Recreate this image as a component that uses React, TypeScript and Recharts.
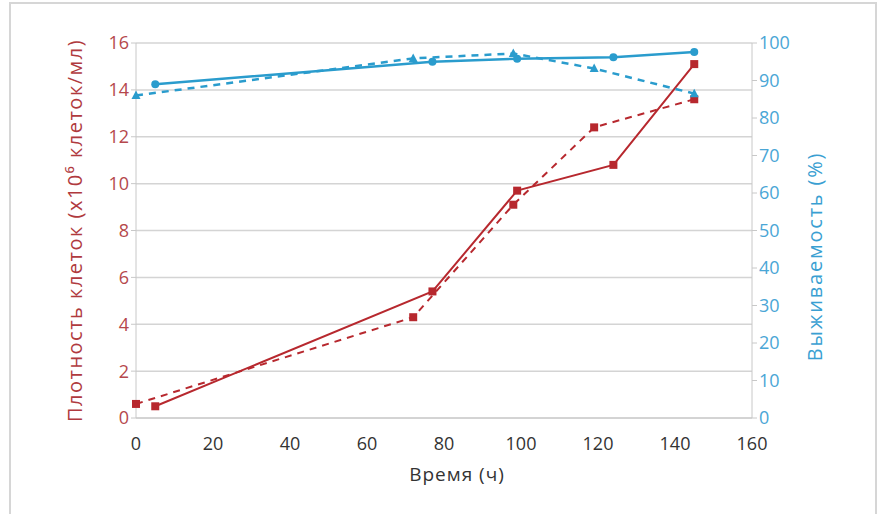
import { CartesianGrid, Line, LineChart, XAxis, YAxis } from "recharts";

// time points (h)
const solidTimes = [5, 77, 99, 124, 145];
const dashedTimes = [0, 72, 98, 119, 145];

// cell density, x10^6 cells/ml
const densitySolid = [0.5, 5.4, 9.7, 10.8, 15.1];
const densityDashed = [0.6, 4.3, 9.1, 12.4, 13.6];

// viability, %
const viabilitySolid = [89, 95, 95.8, 96.2, 97.6];
const viabilityDashed = [86, 95.9, 97.2, 93.2, 86.5];

const xTicks = [0, 20, 40, 60, 80, 100, 120, 140, 160];
const leftTicks = [0, 2, 4, 6, 8, 10, 12, 14, 16];
const rightTicks = [0, 10, 20, 30, 40, 50, 60, 70, 80, 90, 100];

const RED = "#b7282e";
const BLUE = "#2a9ccd";
const FONT = "'Open Sans', sans-serif";

const toRows = (times: number[], values: number[]) =>
  times.map((t, i) => ({ t, v: values[i] }));

const Square = (props: any) => {
  const { cx, cy, fill } = props;
  if (cx == null || cy == null) return null;
  return <rect x={cx - 4} y={cy - 4} width={8} height={8} fill={fill} />;
};

const Circle = (props: any) => {
  const { cx, cy, fill } = props;
  if (cx == null || cy == null) return null;
  return <circle cx={cx} cy={cy} r={4} fill={fill} />;
};

const Triangle = (props: any) => {
  const { cx, cy, fill } = props;
  if (cx == null || cy == null) return null;
  return <path d={`M${cx},${cy - 5} L${cx + 4.5},${cy + 3.5} L${cx - 4.5},${cy + 3.5} Z`} fill={fill} />;
};

export default function App() {
  return (
    <div
      style={{
        position: "absolute",
        left: 0,
        top: 0,
        width: 882,
        height: 514,
        background: "#fff",
        fontFamily: FONT,
      }}
    >
      <div
        style={{
          position: "absolute",
          left: 9,
          top: 2,
          width: 868,
          height: 520,
          border: "2px solid #d6d6d6",
          boxSizing: "border-box",
        }}
      />
      <LineChart
        width={882}
        height={514}
        margin={{ top: 43, right: 0, bottom: 0, left: 0 }}
        style={{ position: "absolute", left: 0, top: 0 }}
      >
        <CartesianGrid
          yAxisId="left"
          vertical={false}
          stroke="#d4d4d4"
          strokeWidth={1.5}
        />
        <XAxis
          type="number"
          dataKey="t"
          domain={[0, 160]}
          ticks={xTicks}
          allowDuplicatedCategory={false}
          height={96}
          axisLine={{ stroke: "#c8c8c8" }}
          tickLine={false}
          tick={{ fontSize: 18, fill: "#333", fontFamily: FONT }}
          tickMargin={13}
          label={{
            value: "Время (ч)",
            position: "insideTop",
            dx: 13,
            dy: 45,
            fontSize: 19,
            letterSpacing: 1,
            fill: "#333",
            fontFamily: FONT,
          }}
        />
        <YAxis
          yAxisId="left"
          domain={[0, 16]}
          ticks={leftTicks}
          width={136}
          axisLine={{ stroke: "#c8c8c8" }}
          tickLine={{ stroke: "#c8c8c8" }}
          tickSize={5}
          tick={{ fontSize: 18, fill: "#b5484c", fontFamily: FONT }}
          label={{
            value: "Плотность клеток (x10⁶ клеток/мл)",
            angle: -90,
            position: "center",
            dx: 7,
            fontSize: 20,
            letterSpacing: 1.5,
            fill: "#b03a3e",
            fontFamily: FONT,
          }}
        />
        <YAxis
          yAxisId="right"
          orientation="right"
          domain={[0, 100]}
          ticks={rightTicks}
          width={130}
          axisLine={{ stroke: "#c8c8c8" }}
          tickLine={{ stroke: "#c8c8c8" }}
          tickSize={5}
          tick={{ fontSize: 18, fill: "#4aa6d6", fontFamily: FONT }}
          label={{
            value: "Выживаемость (%)",
            angle: -90,
            position: "center",
            dx: -2,
            dy: 26,
            fontSize: 20,
            letterSpacing: 1.8,
            fill: "#3a9fd2",
            fontFamily: FONT,
          }}
        />
        <Line
          yAxisId="left"
          data={toRows(solidTimes, densitySolid)}
          dataKey="v"
          stroke={RED}
          strokeWidth={2}
          dot={<Square fill={RED} />}
          isAnimationActive={false}
        />
        <Line
          yAxisId="left"
          data={toRows(dashedTimes, densityDashed)}
          dataKey="v"
          stroke={RED}
          strokeWidth={2}
          strokeDasharray="7 6"
          dot={<Square fill={RED} />}
          isAnimationActive={false}
        />
        <Line
          yAxisId="right"
          data={toRows(solidTimes, viabilitySolid)}
          dataKey="v"
          stroke={BLUE}
          strokeWidth={2.5}
          dot={<Circle fill={BLUE} />}
          isAnimationActive={false}
        />
        <Line
          yAxisId="right"
          data={toRows(dashedTimes, viabilityDashed)}
          dataKey="v"
          stroke={BLUE}
          strokeWidth={2.5}
          strokeDasharray="7 6"
          dot={<Triangle fill={BLUE} />}
          isAnimationActive={false}
        />
      </LineChart>
    </div>
  );
}
